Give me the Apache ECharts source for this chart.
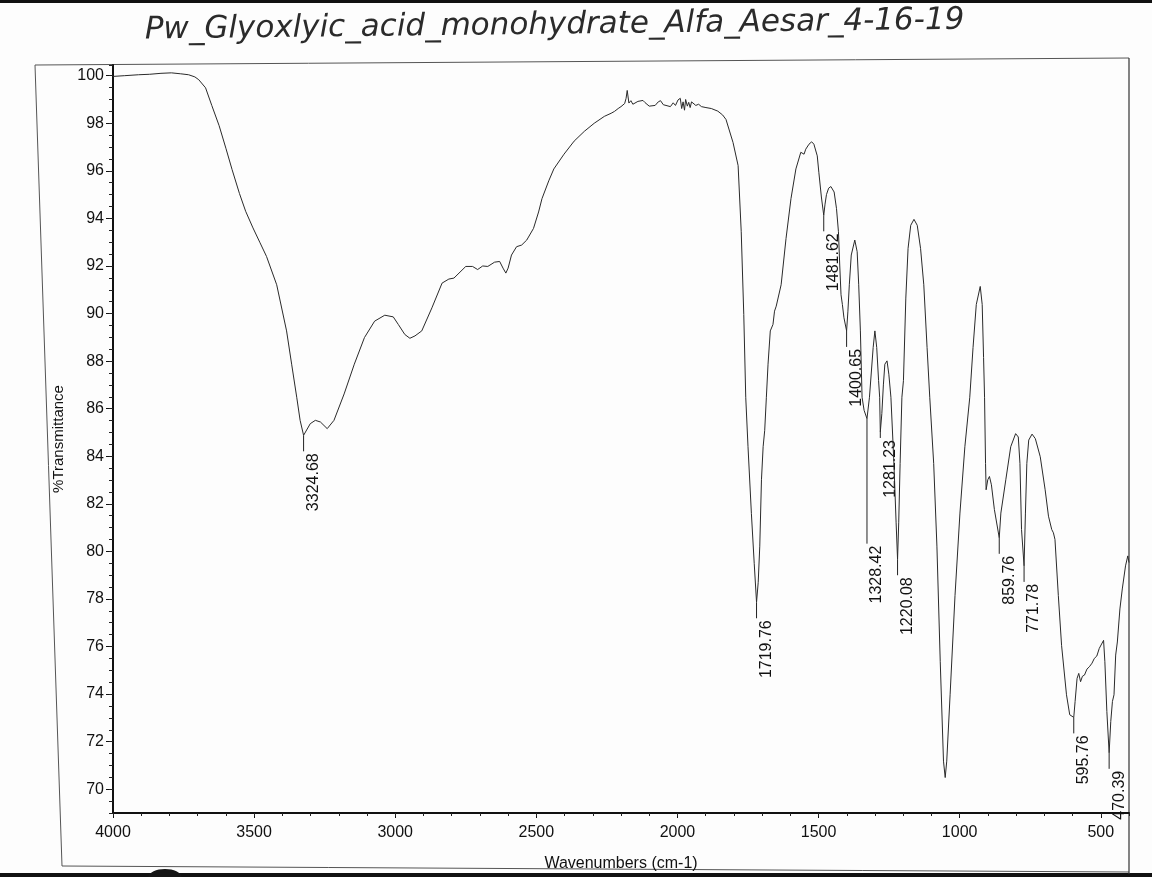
<!DOCTYPE html>
<html>
<head>
<meta charset="utf-8">
<script src="https://cdn.jsdelivr.net/npm/echarts@6/dist/echarts.min.js"></script>
<style>
html,body{margin:0;padding:0;background:#fdfdfd;}
#chart{width:1152px;height:877px;}
</style>
</head>
<body>
<div id="chart"></div>
<script>
// ---- data ----
const titleText = 'Pw_Glyoxlyic_acid_monohydrate_Alfa_Aesar_4-16-19';
const xAxisName = 'Wavenumbers (cm-1)';
const yAxisName = '%Transmittance';
const xTickValues = [500, 1000, 1500, 2000, 2500, 3000, 3500, 4000];
const yTickValues = [70, 72, 74, 76, 78, 80, 82, 84, 86, 88, 90, 92, 94, 96, 98, 100];

const wavenumbers = [
  4000, 3960, 3910, 3870, 3830, 3793, 3760, 3732, 3710, 3696, 3672, 3650, 3624, 3600, 3578, 3552,
  3530, 3504, 3480, 3456, 3420, 3385, 3367, 3349, 3337, 3324.68, 3301, 3283, 3265, 3241, 3217, 3181, 3145, 3109,
  3073, 3037, 3007, 2989, 2966, 2948, 2930, 2906, 2870, 2834, 2810, 2792, 2774, 2750, 2726, 2708,
  2690, 2672, 2648, 2630, 2618, 2608, 2600, 2588, 2570, 2552, 2534, 2510, 2492, 2480, 2456, 2438,
  2402, 2366, 2330, 2295, 2259, 2235, 2223, 2210, 2200, 2187, 2182, 2178, 2172, 2165, 2158, 2151, 2140, 2135, 2122, 2115, 2100, 2095, 2079,
  2068, 2060, 2050, 2043, 2025, 2015, 2007, 1998, 1990, 1985, 1980, 1975, 1971, 1965, 1960, 1955, 1950, 1935, 1925, 1915, 1899, 1880, 1857, 1840, 1828,
  1803, 1785, 1774, 1765, 1758, 1750, 1738, 1728, 1719.76,
  1713.8, 1708.3, 1702.3, 1696.4, 1690.8, 1684.9, 1679, 1671, 1661.5, 1656, 1650, 1632.6, 1615.2,
  1597.7, 1580.3, 1562.9, 1557, 1551.4, 1545.4, 1533.9, 1524.5, 1516.5, 1504.6, 1499, 1490, 1481.62,
  1477, 1472, 1464.3, 1456.3, 1444.8, 1436.4, 1429.5, 1425, 1420.4, 1415.6, 1410, 1400.65, 1396, 1391,
  1384.1, 1371.6, 1363.2, 1357.7, 1351.8, 1345.8, 1338.6, 1328.42, 1319.6, 1306.5, 1300.4, 1293.9,
  1287.3, 1283.5, 1281.23, 1275.8, 1270.3, 1265.1, 1257.4, 1251, 1243.6, 1232.9, 1225.2, 1220.08,
  1216, 1211, 1204.7, 1199.2, 1190.8, 1182.8, 1173.4, 1161.9, 1150.3, 1138.6, 1127.1, 1115.5, 1106,
  1092.1, 1080.6, 1068.8, 1057.3, 1051.3, 1045.8, 1033.9, 1016.5, 999, 981.6, 964.2, 952.6, 941.1,
  927.1, 920.2, 915.3, 911.8, 908.3, 906.3, 900.4, 894.5, 887.5, 877, 859.76, 854, 836.5, 819.1,
  801.7, 792.3, 786.4, 780.8, 771.78, 767, 762, 755.3, 743.5, 731.9, 714.5, 697.1, 685.3, 673.8,
  667.8, 662.3, 650.4, 638.9, 621.5, 610, 595.76, 591, 584, 578, 571.6, 565, 557.7, 549, 540.3, 531,
  522.8, 514, 505.4, 490.1, 485.5, 478.5, 470.39, 464.6, 458.7, 453.1, 447.2, 441.3, 432.2, 423.8,
  412.3, 404.3, 400
];
const transmittance = [
  99.97, 100.0, 100.04, 100.06, 100.1, 100.12, 100.08, 100.04, 99.95, 99.83, 99.49, 98.75, 97.9, 96.95, 96.05, 95.05,
  94.3, 93.6, 93.0, 92.4, 91.21, 89.27, 87.87, 86.48, 85.51, 84.88, 85.37, 85.51, 85.44, 85.16, 85.51, 86.62, 87.87, 88.99,
  89.68, 89.93, 89.86, 89.54, 89.12, 88.96, 89.06, 89.27, 90.24, 91.28, 91.45, 91.49, 91.7, 91.98, 91.98, 91.85,
  92.0, 91.98, 92.16, 92.19, 91.91, 91.7, 91.91, 92.46, 92.81, 92.88, 93.09, 93.58, 94.27, 94.83, 95.58, 96.08,
  96.7, 97.25, 97.66, 98.0, 98.29, 98.42, 98.5, 98.62, 98.7, 98.83, 99.05, 99.38, 98.85, 98.95, 98.8, 98.79, 98.92, 98.85, 98.96, 98.87, 98.72, 98.8, 98.75,
  98.9, 98.95, 98.78, 98.83, 98.7, 98.86, 98.75, 98.98, 99.05, 98.62, 98.9, 98.55, 99.0, 98.72, 98.88, 98.66, 98.9, 98.75, 98.8, 98.7, 98.66, 98.62, 98.51, 98.35, 98.16,
  97.19, 96.22, 93.44, 89.96, 86.48, 84.4, 81.6, 79.5, 77.86,
  78.7, 80.22, 83.01, 84.4, 85.09, 86.48, 87.87, 89.27, 89.54, 90.1, 90.31, 91.21, 93.16,
  94.83, 96.08, 96.78, 96.84, 96.7, 96.91, 97.12, 97.22, 97.12, 96.63, 95.94, 94.9, 94.13,
  94.6, 95.0, 95.27, 95.34, 95.11, 94.41, 93.44, 92.04, 90.79, 90.38, 89.82, 89.27, 90.1, 91.21,
  92.46, 93.09, 92.6, 91.21, 89.27, 86.48, 85.93, 85.58, 86.48, 88.57, 89.27, 88.57,
  87.18, 86.48, 85.02, 85.79, 87.0, 87.87, 88.01, 87.45, 86.48, 83.7, 81.2, 79.67,
  81.2, 83.7, 86.48, 87.18, 90.65, 92.74, 93.71, 93.96, 93.71, 92.74, 91.21, 88.57, 86.48,
  83.7, 80.22, 75.36, 71.18, 70.49, 71.18, 73.97, 78.14, 81.61, 84.4, 86.48, 88.57, 90.38,
  91.14, 90.38, 88.15, 86.48, 83.7, 82.59, 83.01, 83.15, 82.8, 81.76, 80.57, 81.61, 83.01, 84.4,
  84.95, 84.81, 83.7, 80.92, 79.39, 81.61, 83.7, 84.68, 84.93, 84.74, 83.98, 82.59, 81.48, 80.92,
  80.78, 80.5, 78.14, 76.05, 73.97, 73.13, 73.02, 73.69, 74.66, 74.87, 74.52, 74.75, 74.8, 75.05, 75.15, 75.3,
  75.5, 75.6, 75.92, 76.26, 75.36, 73.27, 71.53, 72.85, 73.69, 73.97, 75.64, 76.19, 77.58, 78.42,
  79.39, 79.81, 79.53
];

const peakWavenumbers = [3324.68, 1719.76, 1481.62, 1400.65, 1328.42, 1281.23, 1220.08, 859.76, 771.78, 595.76, 470.39];
const peakTransmittance = [84.88, 77.86, 94.13, 89.27, 85.58, 85.02, 79.67, 80.57, 79.39, 73.02, 71.53];

// ---- chart ----
const spectrum = wavenumbers.map((w, i) => [w, transmittance[i]]);
const peaks = peakWavenumbers.map((w, i) => [w, peakTransmittance[i]]);

// label connector lengths (px) where the instrument pushed a label down
const peakLabelDrop = {'1328.42': 125, '1281.23': 6};
const FONT = '"Liberation Sans", Arial, sans-serif';
const plain = v => String(v);

const chart = echarts.init(document.getElementById('chart'), null, {renderer: 'canvas'});
chart.setOption({
  backgroundColor: '#fdfdfd',
  animation: false,
  grid: {left: 113, right: 23, top: 65, bottom: 58, containLabel: false},
  xAxis: [{
    type: 'value', min: 400, max: 4000, inverse: true, position: 'bottom',
    name: xAxisName, nameLocation: 'middle', nameGap: 43,
    nameTextStyle: {color: '#111', fontSize: 16, fontFamily: FONT},
    axisLine: {show: true, lineStyle: {color: '#111', width: 2}},
    axisTick: {show: true, length: 5, customValues: xTickValues, lineStyle: {color: '#111', width: 1}},
    axisLabel: {show: true, customValues: xTickValues, formatter: plain, margin: 12, color: '#111', fontSize: 16, fontFamily: FONT},
    splitLine: {show: false}
  }, {
    type: 'value', min: 400, max: 4000, interval: 100, inverse: true, position: 'bottom',
    axisLine: {show: false},
    axisTick: {show: true, length: 3, lineStyle: {color: '#222', width: 1}},
    axisLabel: {show: false},
    splitLine: {show: false}
  }],
  yAxis: [{
    type: 'value', min: 69, max: 100.45, position: 'left',
    name: yAxisName, nameLocation: 'middle', nameGap: 44, nameRotate: 90,
    nameTextStyle: {color: '#111', fontSize: 15, fontFamily: FONT},
    axisLine: {show: true, lineStyle: {color: '#111', width: 2}},
    axisTick: {show: true, length: 7, customValues: yTickValues, lineStyle: {color: '#111', width: 1}},
    axisLabel: {show: true, customValues: yTickValues, formatter: plain, margin: 9, color: '#111', fontSize: 16, fontFamily: FONT},
    splitLine: {show: false}
  }, {
    type: 'value', min: 69, max: 100.45, interval: 0.5, position: 'left',
    axisLine: {show: false},
    axisTick: {show: true, length: 4, lineStyle: {color: '#222', width: 1}},
    axisLabel: {show: false},
    splitLine: {show: false}
  }],
  series: [{
    type: 'line',
    data: spectrum,
    xAxisIndex: 0, yAxisIndex: 0,
    symbol: 'none',
    smooth: false,
    lineStyle: {color: '#2a2a2a', width: 1},
    silent: true
  }, {
    type: 'custom',
    xAxisIndex: 0, yAxisIndex: 0,
    data: peaks,
    silent: true,
    renderItem: function (params, api) {
      const w = api.value(0);
      const p = api.coord([w, api.value(1)]);
      const label = w.toFixed(2);
      const drop = peakLabelDrop[label] !== undefined ? peakLabelDrop[label] : 16;
      return {
        type: 'group',
        children: [{
          type: 'line',
          shape: {x1: p[0], y1: p[1], x2: p[0], y2: p[1] + drop},
          style: {stroke: '#222', lineWidth: 1}
        }, {
          type: 'text',
          x: p[0] + 2, y: p[1] + drop + 2,
          rotation: Math.PI / 2,
          style: {text: label, fill: '#111', fontSize: 16, fontFamily: FONT, align: 'right', verticalAlign: 'top'}
        }]
      };
    }
  }],
  graphic: [
    {type: 'rect', shape: {x: 0, y: 0, width: 1152, height: 3}, style: {fill: '#111'}, silent: true},
    {type: 'rect', shape: {x: 0, y: 873, width: 1152, height: 4}, style: {fill: '#111'}, silent: true},
    {type: 'polyline', shape: {points: [[1129, 58], [35, 65], [62, 866], [1129, 872]]}, style: {stroke: '#555', lineWidth: 1, fill: null}, silent: true},
    {type: 'line', shape: {x1: 1129, y1: 58, x2: 1129, y2: 874}, style: {stroke: '#333', lineWidth: 1.2}, silent: true},
    {type: 'ellipse', shape: {cx: 165, cy: 878, rx: 17, ry: 9}, style: {fill: '#151515'}, silent: true},
    {type: 'text', x: 145, y: 46, rotation: 0.012,
     style: {text: titleText, fill: '#2b2b2b', fontSize: 31, fontStyle: 'italic', fontFamily: '"DejaVu Sans", sans-serif', fontWeight: 'lighter', verticalAlign: 'bottom'},
     silent: true}
  ]
});
</script>
</body>
</html>
